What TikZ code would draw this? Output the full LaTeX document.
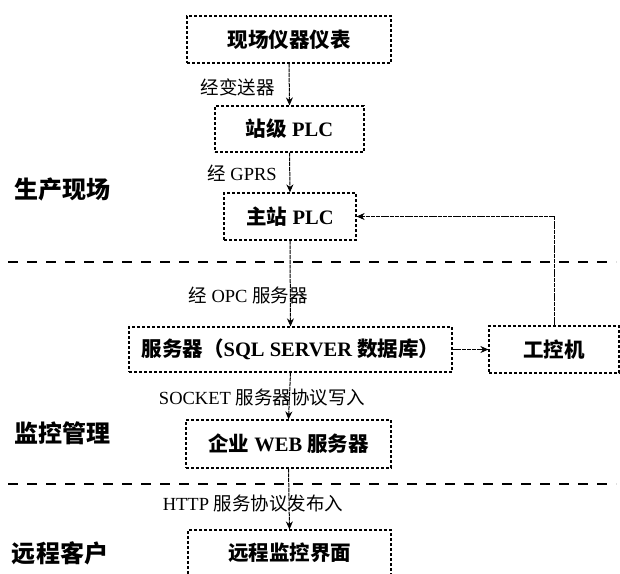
\documentclass[tikz,border=0pt]{standalone}
\usepackage{fontspec}
\setmainfont{Liberation Serif}
\newfontfamily\cjk{Noto Sans CJK SC}
\newcommand\zh[1]{{\cjk #1}}
\usetikzlibrary{arrows.meta}
\tikzset{
  box/.style={draw, line width=1.2pt, dash pattern=on 3pt off 2pt, inner sep=0pt,
    font=\fontsize{20.5}{22}\selectfont\bfseries},
  lbl/.style={inner sep=0pt, font=\fontsize{18.5}{20}\selectfont},
  side/.style={inner sep=0pt, font=\fontsize{24}{26}\selectfont\bfseries},
  conn/.style={line width=1pt, dash pattern=on 4pt off 0.8pt, -{Stealth[length=8pt,width=7pt]}},
  sep/.style={line width=2.4pt, dash pattern=on 10pt off 9pt}
}
\begin{document}
\begin{tikzpicture}[x=1pt,y=-1pt]
\useasboundingbox (0,0) rectangle (620,573);
% boxes
\node[box, minimum width=204pt, minimum height=47pt] (b1) at (289,39.5) {\zh{现场仪器仪表}};
\node[box, minimum width=149pt, minimum height=46pt] (b2) at (289.5,129) {\zh{站级} PLC};
\node[box, minimum width=132pt, minimum height=47pt] (b3) at (290,216.5) {\zh{主站} PLC};
\node[box, minimum width=323pt, minimum height=45pt] (b4) at (290.5,349.5) {\zh{服务器（}SQL SERVER \zh{数据库）}};
\node[box, minimum width=130pt, minimum height=47pt] (b5) at (554,349.5) {\zh{工控机}};
\node[box, minimum width=205pt, minimum height=48pt] (b6) at (288.5,444) {\zh{企业} WEB \zh{服务器}};
\node[box, minimum width=203pt, minimum height=48pt] (b7) at (289.5,554) {\raisebox{5pt}{\zh{远程监控界面}}};
% labels
\node[lbl] (l1) at (237.5,87) {\zh{经变送器}};
\node[lbl] (l2) at (242,173) {\zh{经} GPRS};
\node[lbl] (l3) at (248,295) {\zh{经} OPC \zh{服务器}};
\node[lbl] (l4) at (262,398) {SOCKET \zh{服务器协议写入}};
\node[lbl] (l5) at (253,503) {HTTP \zh{服务协议发布入}};
\node[side] (s1) at (62,189) {\zh{生产现场}};
\node[side] (s2) at (62,433) {\zh{监控管理}};
\node[side] (s3) at (60,553) {\zh{远程客户}};
% separators
\draw[sep] (8,262) -- (616,262);
\draw[sep] (8,484) -- (616,484);
% connectors
\draw[conn] (b1.south) -- (b2.north);
\draw[conn] (b2.south) -- (b3.north);
\draw[conn] (b3.south) -- (b4.north);
\draw[conn] (b4.east) -- (b5.west);
\draw[conn] (b5.north) |- (b3.east);
\draw[conn] (b4.south) -- (b6.north);
\draw[conn] (b6.south) -- (b7.north);
\end{tikzpicture}
\end{document}
